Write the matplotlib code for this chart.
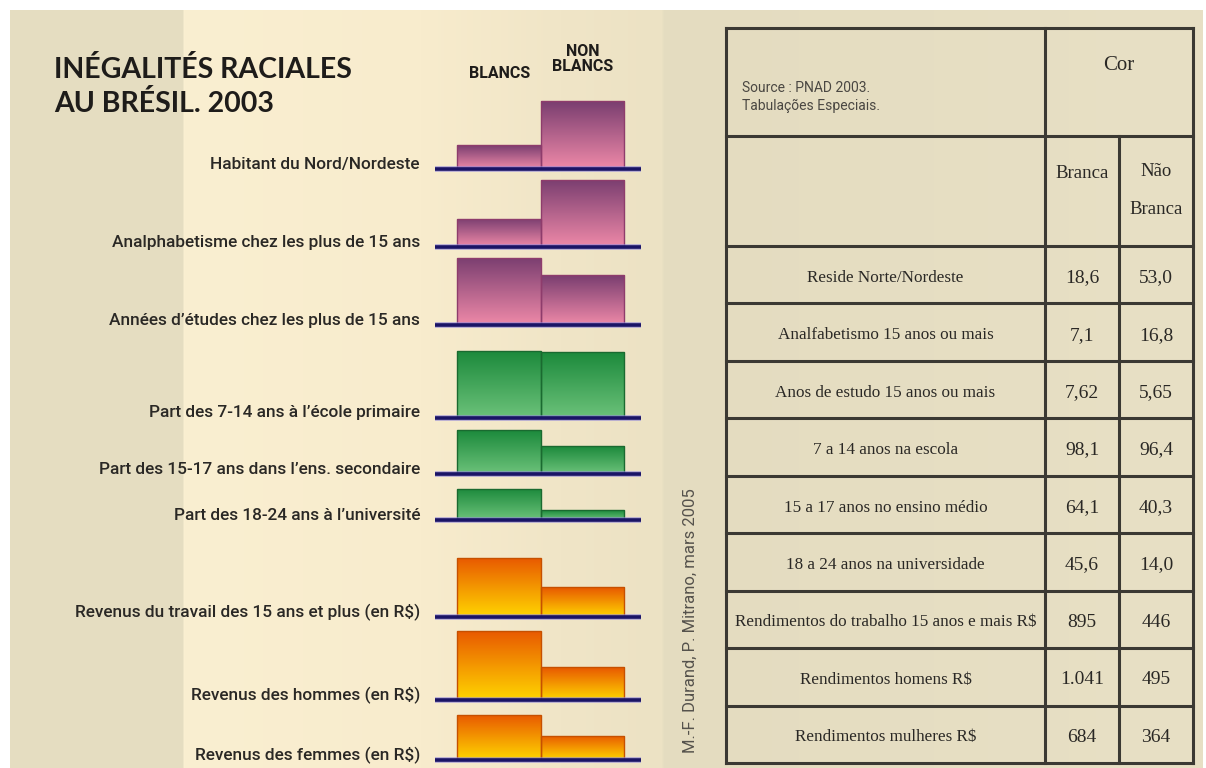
import numpy as np
import matplotlib.pyplot as plt
from matplotlib.colors import LinearSegmentedColormap

# --- data ---
labels_fr = ["Habitant du Nord/Nordeste",
             "Analphabetisme chez les plus de 15 ans",
             "Années d\u2019études chez les plus de 15 ans",
             "Part des 7-14 ans à l\u2019école primaire",
             "Part des 15-17 ans dans l\u2019ens. secondaire",
             "Part des 18-24 ans à l\u2019université",
             "Revenus du travail des 15 ans et plus (en R$)",
             "Revenus des hommes (en R$)",
             "Revenus des femmes (en R$)"]
labels_pt = ["Reside Norte/Nordeste",
             "Analfabetismo 15 anos ou mais",
             "Anos de estudo 15 anos ou mais",
             "7 a 14 anos na escola",
             "15 a 17 anos no ensino médio",
             "18 a 24 anos na universidade",
             "Rendimentos do trabalho 15 anos e mais R$",
             "Rendimentos homens R$",
             "Rendimentos mulheres R$"]
blancs = [18.6, 7.1, 7.62, 98.1, 64.1, 45.6, 895, 1041, 684]
non_blancs = [53.0, 16.8, 5.65, 96.4, 40.3, 14.0, 446, 495, 364]
decimals = [1, 1, 2, 1, 1, 1, 0, 0, 0]
group = [0, 0, 0, 1, 1, 1, 2, 2, 2]

# --- layout (pixels) ---
W, H = 1206, 768
baselines = [169, 247, 325, 418, 474, 520, 617, 700, 760]
ymax = [54.6, 17.55, 7.96, 102.5, 102.5, 102.5, 1056, 1056, 1056]
grad_cols = [("#ee89a8", "#7a3e70", "#8e3c6c"),
             ("#6cc27a", "#1c8a3c", "#1a6a30"),
             ("#ffd500", "#e85800", "#c65000")]

sans = ["Roboto", "DejaVu Sans"]
serif = ["Liberation Serif", "DejaVu Serif"]

fig = plt.figure(figsize=(W / 100, H / 100), dpi=100, facecolor="white")
ax = fig.add_axes([0, 0, 1, 1])
ax.set_xlim(0, W)
ax.set_ylim(H, 0)
ax.axis("off")

# background shading
sx = [10, 182, 184, 420, 560, 661, 664, 1203]
sc = np.array([[229, 221, 193], [229, 221, 193], [250, 239, 209], [248, 236, 205],
               [240, 229, 199], [236, 226, 196], [228, 220, 192], [232, 224, 197]]) / 255
xs = np.arange(10, 1203)
bg = np.stack([np.interp(xs, sx, sc[:, k]) for k in range(3)], axis=-1)[None, :, :]
ax.imshow(bg, extent=[10, 1203, 768, 10], aspect="auto", zorder=0)
ax.set_xlim(0, W)
ax.set_ylim(H, 0)

# title and column heads
ax.text(54, 70, "INÉGALITÉS RACIALES", fontsize=20.5, fontweight="bold", family="Lato",
        color="#1e1c1a", va="center")
ax.text(54, 104, "AU BRÉSIL. 2003", fontsize=20.5, fontweight="bold", family="Lato",
        color="#1e1c1a", va="center")
ax.text(500, 73, "BLANCS", fontsize=11.5, fontweight="bold", family=sans,
        color="#1e1c1a", ha="center", va="center")
ax.text(583, 59, "NON\nBLANCS", fontsize=11.5, fontweight="bold", family=sans,
        color="#1e1c1a", ha="center", va="center", linespacing=1.05)

grad = np.linspace(0, 1, 128).reshape(-1, 1)
x0, x1 = 435, 641
unit = (624 - 457) / 2
for i in range(9):
    y0 = baselines[i]
    ax.text(420, y0 - 5, labels_fr[i], fontsize=12.4, fontweight="medium", family=sans,
            color="#2a2825", ha="right", va="center")
    bax = fig.add_axes([x0 / W, 1 - y0 / H, (x1 - x0) / W, 70 / H])
    xl = ((x0 - 457) / unit, (x1 - 457) / unit)
    lo, hi, edge = grad_cols[group[i]]
    cmap = LinearSegmentedColormap.from_list("g%d" % i, [lo, hi])
    for j, v in enumerate([blancs[i], non_blancs[i]]):
        b = bax.bar(j + 0.5, v, width=1, color="none", edgecolor=edge, linewidth=1.0, zorder=3)[0]
        im = bax.imshow(grad, extent=[j, j + 1, 0, v], origin="lower", aspect="auto",
                        cmap=cmap, zorder=2)
        im.set_clip_path(b)
    bax.plot(xl, [0, 0], color="#8f86d8", lw=4.2, alpha=0.6, clip_on=False, zorder=4,
             solid_capstyle="butt")
    bax.plot(xl, [0, 0], color="#1a1466", lw=2.6, clip_on=False, zorder=5,
             solid_capstyle="butt")
    bax.set_xlim(*xl)
    bax.set_ylim(0, ymax[i])
    bax.axis("off")

# credit
ax.text(690, 621, "M.-F. Durand, P. Mitrano, mars 2005", rotation=90, fontsize=12,
        family=sans, color="#55524c", ha="center", va="center")

# table
L, C1, C2, R = 726, 1045, 1119, 1193
top, hmid, hbot, bot = 28, 136, 246, 763
edges = np.linspace(hbot, bot, len(labels_pt) + 1)
lc, lw = "#3b3933", 2.2
for y in [top, hmid] + list(edges):
    ax.plot([L, R], [y, y], color=lc, lw=lw, solid_capstyle="projecting")
for x, ya in [(L, top), (C1, top), (C2, hmid), (R, top)]:
    ax.plot([x, x], [ya, bot], color=lc, lw=lw, solid_capstyle="projecting")

ax.text(742, 88, "Source : PNAD 2003.", fontsize=10, family=sans, color="#4a4742", va="center")
ax.text(742, 106, "Tabulações Especiais.", fontsize=10, family=sans, color="#4a4742", va="center")
ax.text((C1 + R) / 2, 65, "Cor", fontsize=15, family=serif, color="#2a2825", ha="center", va="center")
ax.text((C1 + C2) / 2, 173, "Branca", fontsize=13.5, family=serif, color="#2a2825",
        ha="center", va="center")
ax.text((C2 + R) / 2, 172, "Não", fontsize=13.5, family=serif, color="#2a2825",
        ha="center", va="center")
ax.text((C2 + R) / 2, 210, "Branca", fontsize=13.5, family=serif, color="#2a2825",
        ha="center", va="center")


def fmt(v, d):
    s = "{:,.{}f}".format(v, d)
    return s.replace(",", "X").replace(".", ",").replace("X", ".")


for i in range(len(labels_pt)):
    yc = (edges[i] + edges[i + 1]) / 2 + 3
    ax.text((L + C1) / 2, yc, labels_pt[i], fontsize=12.3, family=serif, color="#2a2825",
            ha="center", va="center")
    ax.text((C1 + C2) / 2, yc, fmt(blancs[i], decimals[i]), fontsize=14, family=serif,
            color="#2a2825", ha="center", va="center")
    ax.text((C2 + R) / 2, yc, fmt(non_blancs[i], decimals[i]), fontsize=14, family=serif,
            color="#2a2825", ha="center", va="center")

fig.savefig("out.png", dpi=100, facecolor="white")
